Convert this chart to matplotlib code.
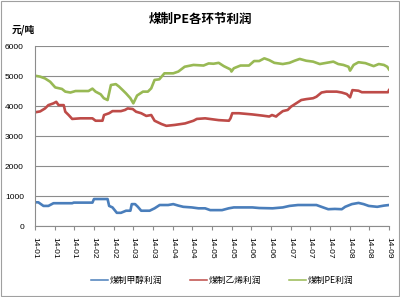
import matplotlib
matplotlib.use("Agg")
import matplotlib.pyplot as plt
from matplotlib.patches import Rectangle

plt.rcParams['font.family'] = ['Noto Sans CJK SC', 'DejaVu Sans']

title = "煤制PE各环节利润"
unit = "元/吨"
series_names = ["煤制甲醇利润", "煤制乙烯利润", "煤制PE利润"]
colors = ["#4a7ebb", "#be4b48", "#98b954"]
tick_labels = ["14-01", "14-01", "14-01", "14-02", "14-02", "14-03", "14-03",
               "14-04", "14-04", "14-05", "14-05", "14-06", "14-06", "14-07",
               "14-07", "14-07", "14-08", "14-08", "14-09"]

# positions along the category axis (in label steps) and values, yuan/ton
x_methanol = [0, 0.17, 0.43, 0.68, 0.94, 1.89, 1.97, 2.92, 3.0, 3.69, 3.77, 3.94,
              4.16, 4.37, 4.63, 4.85, 4.92, 5.09, 5.23, 5.4, 5.83, 6.08, 6.34,
              6.77, 7.03, 7.29, 7.54, 7.97, 8.31, 8.65, 8.91, 9.51, 9.85, 10.11,
              11.05, 11.4, 12.08, 12.6, 12.94, 13.37, 14.31, 14.65, 14.91, 15.25,
              15.6, 15.77, 16.11, 16.45, 16.71, 16.97, 17.4, 17.74, 18.0]
y_methanol = [790, 790, 670, 670, 760, 760, 780, 780, 900, 900, 670, 620,
              440, 440, 510, 510, 730, 730, 640, 510, 510, 590, 700,
              700, 730, 680, 640, 620, 590, 590, 530, 530, 590, 620,
              620, 600, 590, 620, 670, 700, 700, 620, 560, 570,
              560, 640, 730, 770, 730, 670, 640, 680, 700]

x_ethylene = [0, 0.26, 0.51, 0.68, 0.94, 1.08, 1.2, 1.46, 1.54, 1.71, 1.89, 2.31,
              2.92, 3.08, 3.43, 3.51, 3.77, 3.94, 4.37, 4.58, 4.71, 4.97, 5.14,
              5.4, 5.66, 5.91, 6.08, 6.43, 6.68, 7.11, 7.63, 8.06, 8.23, 8.65,
              9.34, 9.86, 9.94, 10.03, 10.37, 11.05, 11.57, 11.91, 12.05, 12.26,
              12.34, 12.6, 12.85, 13.02, 13.28, 13.54, 13.79, 14.14, 14.31, 14.57,
              14.82, 15.34, 15.6, 15.85, 16.02, 16.14, 16.45, 16.62, 17.22, 17.95, 18.0]
y_ethylene = [3790, 3820, 3920, 4030, 4090, 4140, 4030, 4030, 3810, 3700, 3570, 3590,
              3590, 3510, 3510, 3700, 3760, 3830, 3830, 3870, 3920, 3900, 3810,
              3760, 3670, 3700, 3510, 3400, 3340, 3370, 3420, 3510, 3570, 3590,
              3530, 3510, 3590, 3760, 3760, 3720, 3680, 3650, 3700, 3650,
              3700, 3830, 3870, 3980, 4090, 4200, 4230, 4260, 4310, 4450,
              4480, 4480, 4450, 4400, 4290, 4530, 4510, 4460, 4460, 4460, 4530]

x_pe = [0, 0.26, 0.51, 0.77, 1.03, 1.37, 1.54, 1.8, 2.06, 2.72, 2.92, 3.08, 3.34,
        3.5, 3.69, 3.86, 4.11, 4.27, 4.46, 4.63, 4.85, 5.0, 5.19, 5.49, 5.74,
        5.91, 6.08, 6.32, 6.58, 7.03, 7.29, 7.61, 8.06, 8.57, 8.83, 9.08, 9.34,
        9.6, 9.94, 9.99, 10.11, 10.45, 10.88, 11.14, 11.4, 11.66, 11.91, 12.17,
        12.6, 12.94, 13.2, 13.46, 13.79, 14.14, 14.48, 14.82, 15.17, 15.42,
        15.68, 15.94, 16.02, 16.2, 16.45, 16.8, 17.22, 17.48, 17.74, 17.91, 18.0]
y_pe = [5010, 4980, 4920, 4810, 4620, 4570, 4480, 4450, 4500, 4500, 4580, 4480, 4390,
        4260, 4200, 4700, 4730, 4650, 4530, 4420, 4260, 4090, 4350, 4480, 4480,
        4590, 4870, 4890, 5090, 5090, 5150, 5310, 5370, 5350, 5420, 5410, 5440,
        5330, 5220, 5150, 5260, 5350, 5350, 5500, 5500, 5590, 5530, 5440,
        5400, 5440, 5510, 5570, 5510, 5480, 5400, 5440, 5480, 5400,
        5370, 5310, 5180, 5370, 5460, 5430, 5330, 5400, 5370, 5310, 5220]

fig = plt.figure(figsize=(4, 2.97), dpi=100)
fig.patches.append(Rectangle((0.003, 0.004), 0.994, 0.992, transform=fig.transFigure,
                             fill=False, edgecolor="#a0a0a0", linewidth=0.8))
ax = fig.add_axes([0.0875, 0.239, 0.885, 0.606])

for xs, ys, c, name in zip([x_methanol, x_ethylene, x_pe],
                           [y_methanol, y_ethylene, y_pe], colors, series_names):
    ax.plot(xs, ys, color=c, linewidth=1.9, label=name, solid_joinstyle="round")

ax.set_xlim(0, 18)
ax.set_ylim(0, 6000)
ax.set_yticks(range(0, 6001, 1000))
ax.yaxis.grid(True, color="#8c8c8c", linewidth=0.8)
ax.set_axisbelow(True)
ax.set_xticks(range(len(tick_labels)))
ax.set_xticklabels(tick_labels, rotation=270, fontsize=6, family="Liberation Sans")
for lab in ax.get_yticklabels():
    lab.set_family("Liberation Sans")
ax.tick_params(axis="y", length=0, labelsize=6, pad=8)
ax.tick_params(axis="x", length=3, color="#8c8c8c", pad=5)
for s in ["top", "right"]:
    ax.spines[s].set_visible(False)
for s in ["left", "bottom"]:
    ax.spines[s].set_color("#8c8c8c")
    ax.spines[s].set_linewidth(0.8)

fig.text(0.5, 0.935, title, ha="center", va="center", fontsize=9, fontweight="bold")
fig.text(0.03, 0.9, unit, ha="left", va="center", fontsize=7, fontweight="bold")

leg = fig.legend(loc="center", bbox_to_anchor=(0.555, 0.057), ncol=3, frameon=False,
                 fontsize=6.3, handlelength=1.9, columnspacing=3.2, handletextpad=0.2)
for line in leg.get_lines():
    line.set_linewidth(1.1)

fig.savefig("out.png", dpi=100)
